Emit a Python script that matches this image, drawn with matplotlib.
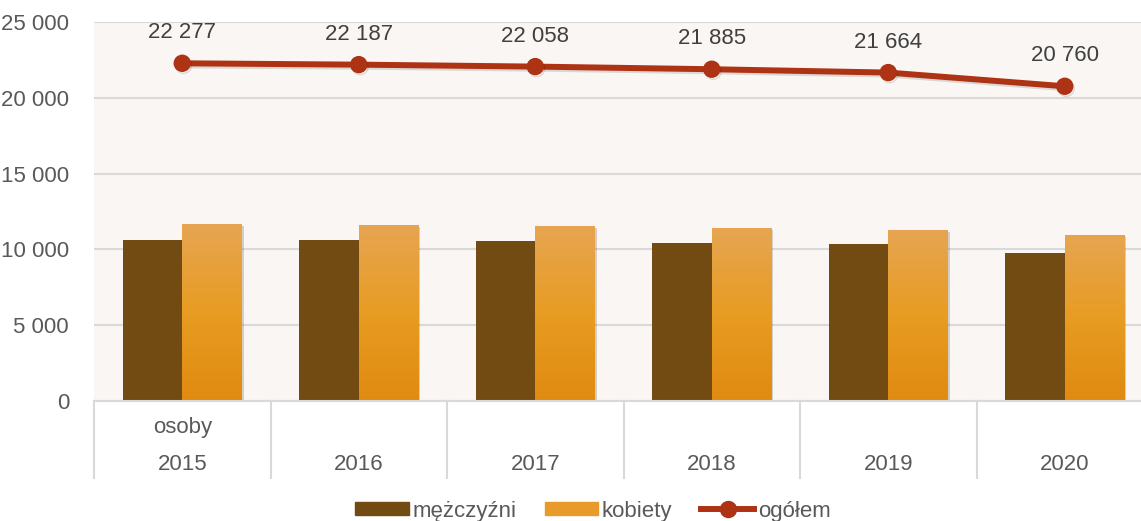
import matplotlib.pyplot as plt
import matplotlib.patheffects as pe
import numpy as np
from matplotlib.colors import LinearSegmentedColormap
from matplotlib.lines import Line2D
from matplotlib.patches import Patch

years = ['2015', '2016', '2017', '2018', '2019', '2020']
mezczyzni = [10627, 10600, 10530, 10447, 10360, 9786]
kobiety = [11650, 11587, 11528, 11438, 11304, 10974]
ogolem = [22277, 22187, 22058, 21885, 21664, 20760]

plt.rcParams['font.family'] = ['Liberation Sans', 'DejaVu Sans']
txt = '#595959'

fig = plt.figure(figsize=(11.41, 5.21), dpi=100)
ax = fig.add_axes([94 / 1141, 1 - 401 / 521, (1153 - 94) / 1141, (401 - 22) / 521])
ax.set_facecolor('#f9f6f3')

x = np.arange(len(years))
w = 0.337
shadow = [pe.SimplePatchShadow(offset=(1.5, -1.5), alpha=0.2), pe.Normal()]

ax.bar(x - w / 2, mezczyzni, width=w, color='#714b11', zorder=3, path_effects=shadow)
bars_k = ax.bar(x + w / 2, kobiety, width=w, color='#e89a2a', zorder=3, path_effects=shadow)

# gradient na słupkach kobiet
cmap = LinearSegmentedColormap.from_list('k', ['#e08a10', '#e89c22', '#e6a552'])
grad = np.linspace(0, 1, 256).reshape(-1, 1)
for b in bars_k:
    bx, by = b.get_x(), b.get_y()
    im = ax.imshow(grad, cmap=cmap, origin='lower', aspect='auto', zorder=3.5,
                   extent=[bx, bx + b.get_width(), by, by + b.get_height()])
    im.set_clip_path(b)

ax.plot(x, ogolem, color='#ae3214', lw=4.3, marker='o', ms=11.5, zorder=5,
        solid_capstyle='round',
        path_effects=[pe.SimpleLineShadow(offset=(1, -1.5), alpha=0.12), pe.Normal()])
for xi, v in zip(x, ogolem):
    ax.annotate(f'{v:,}'.replace(',', ' '), (xi, v), xytext=(0, 22),
                textcoords='offset points', ha='center', va='center',
                fontsize=16, color='#404040')

ax.set_xlim(-0.5, len(years) - 0.5)
ax.set_ylim(0, 25000)
ax.set_yticks(range(0, 25001, 5000))
ax.set_yticklabels([f'{v:,}'.replace(',', ' ') for v in range(0, 25001, 5000)])
ax.tick_params(axis='y', length=0, labelsize=16, labelcolor=txt, pad=18)
ax.set_xticks([])
ax.grid(axis='y', color='#d9d9d9', lw=1.5, zorder=0)
ax.set_axisbelow(True)
for s in ['top', 'right', 'left']:
    ax.spines[s].set_visible(False)
ax.spines['bottom'].set_color('#d9d9d9')
ax.spines['bottom'].set_linewidth(1.5)
ax.spines['bottom'].set_zorder(6)

# tabela kategorii pod osią
for b in np.arange(len(years) + 1) - 0.5:
    ax.plot([b, b], [0, -5100], color='#d9d9d9', lw=1.5, clip_on=False)
for xi, yr in zip(x, years):
    ax.text(xi, -4200, yr, ha='center', va='center', fontsize=16, color=txt)
ax.text(0, -1750, 'osoby', ha='center', va='center', fontsize=16, color=txt)

handles = [Patch(color='#714b11', label='mężczyźni'),
           Patch(color='#e89a2a', label='kobiety'),
           Line2D([], [], color='#ae3214', lw=4.3, marker='o', ms=11.5, label='ogółem')]
fig.legend(handles=handles, loc='center', bbox_to_anchor=(593 / 1141, 1 - 511 / 521),
           ncol=3, frameon=False, fontsize=16, labelcolor=txt, handlelength=2.4,
           handleheight=0.55, handletextpad=0.15, columnspacing=1.3)

fig.savefig('out.png', dpi=100)
